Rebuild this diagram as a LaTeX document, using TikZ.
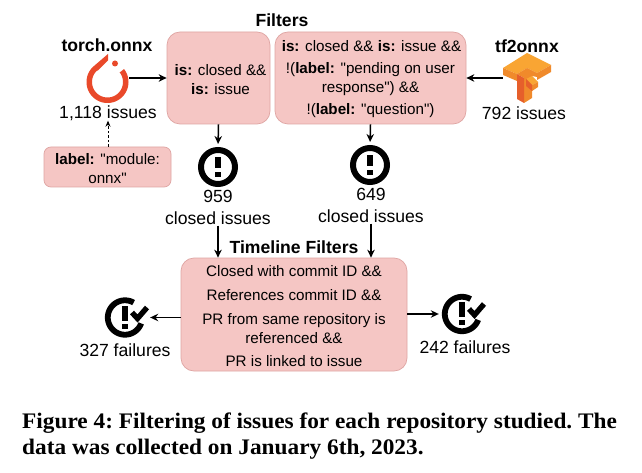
\documentclass[tikz,border=0pt]{standalone}
\usepackage{fontspec}
\setmainfont{Liberation Sans}
\newfontfamily\qfont{Liberation Sans}
\newfontfamily\capfont[FakeStretch=1.05]{Liberation Serif}
\usetikzlibrary{arrows.meta}
\definecolor{boxfill}{HTML}{F5C6C4}
\definecolor{boxline}{HTML}{DFA5A3}
\definecolor{torchred}{HTML}{E9492A}
\definecolor{tflight}{HTML}{F9A533}
\definecolor{tfmid}{HTML}{F08A2B}
\definecolor{tfdark}{HTML}{E65F2B}
\tikzset{
  fbox/.style={draw=boxline,fill=boxfill,line width=0.7pt,rounded corners=13pt,align=center,inner sep=0pt,font=\fontsize{15.2}{19}\selectfont},
  lbl/.style={align=center,inner sep=0pt,font=\fontsize{17.6}{21.5}\selectfont},
  ttl/.style={inner sep=0pt,font=\fontsize{17.6}{21}\selectfont\bfseries},
  conn/.style={line width=1.5pt,-{Stealth[length=8pt,width=7.5pt]}},
  dconn/.style={line width=0.8pt,dashed,dash pattern=on 2.5pt off 2pt,-{Stealth[length=6pt,width=5pt]}},
  ringicon/.style={circle,draw=black,line width=6pt,minimum size=34pt,inner sep=0pt},
  blank/.style={circle,minimum size=40pt,inner sep=0pt},
  capt/.style={anchor=base west,inner sep=0pt,font=\capfont\fontsize{22.2}{26}\selectfont\bfseries\frenchspacing}
}
\newcommand{\qt}{{\qfont\symbol{34}}}
\newcommand{\tp}{\rule{0pt}{14pt}}
\newcommand{\excl}[2]{\fill[black] (#1-3.3,#2-10) rectangle (#1+3.3,#2+1.5);\fill[black] (#1-3.3,#2+5) rectangle (#1+3.3,#2+10);}
\newcommand{\checkicon}[2]{%
  \draw[line width=5.8pt,black] plot[domain=60:340,samples=60] ({#1+17.2*cos(\x)},{#2-17.2*sin(\x)});
  \fill[black] (#1-3,#2-12) rectangle (#1+3,#2+3);
  \fill[black] (#1-3,#2+6) rectangle (#1+3,#2+11);
  \draw[line width=5.4pt,black] (#1+7,#2-5) -- (#1+12.5,#2+1) -- (#1+22,#2-10);
}
\begin{document}
\begin{tikzpicture}[x=1pt,y=-1pt]
\useasboundingbox (0,0) rectangle (642,473);
\fill[white] (0,0) rectangle (642,473);
% titles
\node[ttl] (tfilters) at (282,20) {Filters};
\node[ttl] (ttorch) at (107,45) {torch.onnx};
\node[ttl] (ttf) at (527,46) {tf2onnx};
\node[ttl] (ttime) at (294,247) {Timeline Filters};
% boxes
\node[fbox,minimum width=103pt,minimum height=92pt] (box1) at (218.5,78) {\tp\hspace*{4pt}\textbf{is:} closed \&\&\\\hspace*{4pt}\textbf{is:} issue};
\node[fbox,minimum width=191pt,minimum height=92pt] (box2) at (370.5,78) {\tp\hspace*{2pt}\textbf{is:} closed \&\& \textbf{is:} issue \&\&\\[3pt]!(\textbf{label:} \qt pending on user\\response\qt) \&\&\\[3pt]!(\textbf{label:} \qt question\qt)};
\node[fbox,rounded corners=7pt,minimum width=127pt,minimum height=40pt] (box0) at (107.5,167) {\tp\textbf{label:} \qt module:\\onnx\qt};
\node[fbox,minimum width=226pt,minimum height=113pt] (box3) at (294,314.5) {\tp Closed with commit ID \&\&\\[5pt]References commit ID \&\&\\[5pt]PR from same repository is\\referenced \&\&\\[4pt]PR is linked to issue};
% torch logo
\node[blank,minimum size=43pt] (torch) at (107.5,81) {};
\fill[torchred] plot[domain=38:-225,samples=70] ({107.5+21*cos(\x)},{82-21*sin(\x)}) -- (108,54) -- (108,60.5) -- (98.5,70) -- plot[domain=-225:38,samples=70] ({107.5+15.5*cos(\x)},{82-15.5*sin(\x)}) -- cycle;
\fill[torchred] (115,63.5) circle[radius=3];
\node[lbl] (n1118) at (108,113) {1,118 issues};
% tf logo
\node[blank,minimum size=48pt] (tf) at (527,78) {};
\fill[tflight] (503,68) -- (527,53) -- (551,65) -- (537,73) -- (527,68) -- (517,74) -- cycle;
\fill[tfmid] (503,68) -- (517,74) -- (517,81) -- (503,75) -- cycle;
\fill[tfmid] (551,65) -- (551,72) -- (537,80) -- (537,73) -- cycle;
\fill[tfmid] (517,74) -- (527,68) -- (537,73) -- (537,77) -- (532,76) -- (532,98) -- (524,103) -- (524,78) -- cycle;
\fill[tfdark] (517,74) -- (524,78) -- (524,103) -- (517,99) -- cycle;
\fill[tflight] (526,79) -- (532,76) -- (538,82) -- (532,85) -- cycle;
\fill[tfmid] (532,85) -- (538,82) -- (538,87) -- (532,91) -- cycle;
\fill[tfdark] (526,79) -- (532,85) -- (532,91) -- (526,86) -- cycle;
\node[lbl] (n792) at (524,113) {792 issues};
% exclamation icons
\node[ringicon] (ex1) at (218,167) {};
\excl{218}{167}
\node[ringicon] (ex2) at (370,165) {};
\excl{370}{165}
\node[lbl] (closed1) at (218,207.5) {959\\closed issues};
\node[lbl] (closed2) at (371,205.5) {649\\closed issues};
% check icons
\node[blank] (chk1) at (125,317.5) {};
\checkicon{125}{317.5}
\node[blank] (chk2) at (462,314) {};
\checkicon{462}{314}
\node[lbl] (n327) at (125,350) {327 failures};
\node[lbl] (n242) at (465,347) {242 failures};
% connectors
\draw[conn] (box1.west -| torch.east) -- (box1.west);
\draw[conn] (box2.east -| tf.west) -- (box2.east);
\draw[conn,shorten >=3pt] (box1.south) -- (ex1.north);
\draw[conn,shorten >=3pt] (box2.south) -- (ex2.north);
\draw[dconn] (box0.north -| n1118) -- (n1118.south);
\draw[conn] (closed1.south) ++(0,1) -- (closed1.south |- box3.north);
\draw[conn] (closed2.south) ++(0,1) -- (closed2.south |- box3.north);
\draw[conn,shorten >=5pt] (box3.west |- chk1) -- (chk1.east);
\draw[conn,shorten >=3pt] (box3.east |- chk2) -- (chk2.west);
% caption
\node[capt] (cap1) at (22,428) {Figure 4: Filtering of issues for each repository studied. The};
\node[capt] (cap2) at (22,454) {data was collected on January 6th, 2023.};
\end{tikzpicture}
\end{document}
